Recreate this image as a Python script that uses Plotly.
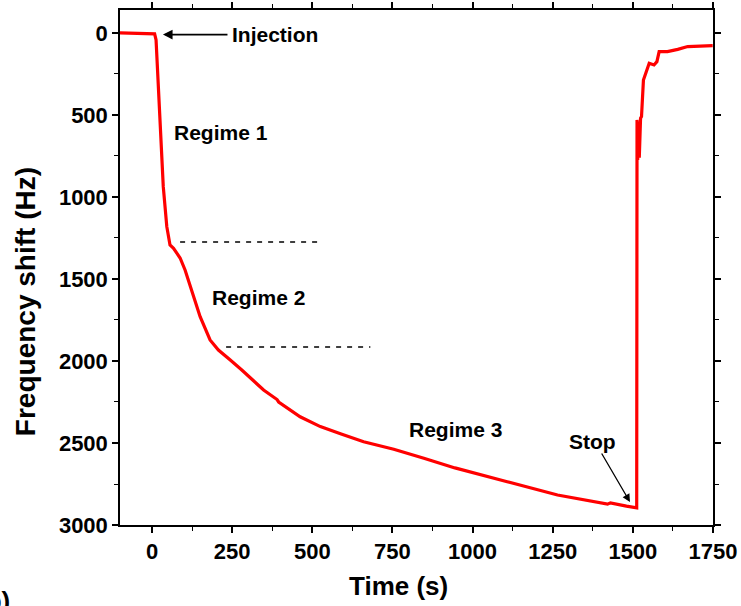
import plotly.graph_objects as go

time_s = [-100, -60, -20, 0, 8, 12.5, 19.7, 27, 35, 46, 56, 67, 87.5, 103, 150, 181, 207,
          244, 280, 348, 390, 395, 462, 525, 582, 590, 660, 754, 848, 900, 937, 945,
          1108, 1265, 1421, 1430, 1480, 1509, 1512, 1513, 1515, 1517, 1520, 1524, 1527,
          1533, 1541, 1551, 1566, 1575, 1582, 1608, 1640, 1671, 1710, 1749]
shift_hz = [0, 2, 3, 4, 5, 43, 327, 632, 937, 1181, 1293, 1313, 1372, 1445, 1730, 1872, 1933,
            1994, 2055, 2177, 2235, 2250, 2340, 2400, 2436, 2445, 2492, 2538, 2593, 2624, 2645, 2652,
            2736, 2817, 2873, 2865, 2885, 2898, 2896, 530, 775, 540, 760, 520, 510,
            287, 246, 185, 195, 175, 114, 114, 100, 83, 80, 77]

dash1_x = [87.5, 531]
dash1_y = [1274, 1274]
dash2_x = [231, 681]
dash2_y = [1915, 1915]

x_ticks = [0, 250, 500, 750, 1000, 1250, 1500, 1750]
y_ticks = [0, 500, 1000, 1500, 2000, 2500, 3000]

fnt = "Liberation Sans, Arial, sans-serif"

fig = go.Figure()
fig.add_trace(go.Scatter(x=time_s, y=shift_hz, mode="lines",
                         line=dict(color="#ff0000", width=3.2), showlegend=False))
for dx, dy in [(dash1_x, dash1_y), (dash2_x, dash2_y)]:
    fig.add_trace(go.Scatter(x=dx, y=dy, mode="lines",
                             line=dict(color="black", width=1.5, dash="5px,6px"),
                             showlegend=False))

bold = dict(family=fnt, size=21, color="black")
ann = []
ann.append(dict(x=34, y=10, ax=240, ay=10, xref="x", yref="y", axref="x", ayref="y",
                text="", showarrow=True, arrowhead=2, arrowsize=1.2, arrowwidth=1.6,
                arrowcolor="black"))
ann.append(dict(x=243, y=10, xref="x", yref="y", text="<b>Injection</b>", showarrow=False,
                xanchor="left", font=bold))
ann.append(dict(x=216, y=604, xref="x", yref="y", text="<b>Regime 1</b>", showarrow=False, font=bold))
ann.append(dict(x=331, y=1610, xref="x", yref="y", text="<b>Regime 2</b>", showarrow=False, font=bold))
ann.append(dict(x=947, y=2420, xref="x", yref="y", text="<b>Regime 3</b>", showarrow=False, font=bold))
ann.append(dict(x=1375, y=2488, xref="x", yref="y", text="<b>Stop</b>", showarrow=False, font=bold))
ann.append(dict(x=1491, y=2860, ax=1400, ay=2555, xref="x", yref="y", axref="x", ayref="y",
                text="", showarrow=True, arrowhead=2, arrowsize=1.2, arrowwidth=1.3,
                arrowcolor="black"))
# axis titles
ann.append(dict(x=0.469, y=-0.118, xref="paper", yref="paper", text="<b>Time (s)</b>",
                showarrow=False, xanchor="center", yanchor="middle",
                font=dict(family=fnt, size=26, color="black")))
ann.append(dict(x=-0.160, y=0.433, xref="paper", yref="paper", text="<b>Frequency shift (Hz)</b>",
                showarrow=False, xanchor="center", yanchor="middle", textangle=-90,
                font=dict(family=fnt, size=28, color="black")))
ann.append(dict(x=-0.182, y=-0.114, xref="paper", yref="paper", text="<b>(b)</b>", showarrow=False,
                xanchor="right", yanchor="top", font=dict(family=fnt, size=26, color="black")))
fig.update_layout(annotations=ann)

axis_common = dict(showline=True, linecolor="black", linewidth=1.5, mirror="ticks",
                   ticks="outside", ticklen=6, tickwidth=1.5, tickcolor="black",
                   showgrid=False, zeroline=False, automargin=False,
                   tickfont=dict(family=fnt, size=22, color="black"))

fig.update_xaxes(range=[-100, 1750], tickvals=x_ticks,
                 ticktext=[f"<b>{v}</b>" for v in x_ticks],
                 minor=dict(dtick=125, tick0=0, ticks="outside", ticklen=4, tickwidth=1.3,
                            tickcolor="black"),
                 **axis_common)
fig.update_yaxes(range=[3000, -140], tickvals=y_ticks,
                 ticktext=[f"<b>{v}</b>" for v in y_ticks],
                 minor=dict(dtick=250, tick0=0, ticks="outside", ticklen=4, tickwidth=1.3,
                            tickcolor="black"),
                 **axis_common)

fig.update_layout(width=741, height=606, margin=dict(l=120, r=28, t=10, b=81),
                  plot_bgcolor="white", paper_bgcolor="white")
fig.write_html("out.html")
